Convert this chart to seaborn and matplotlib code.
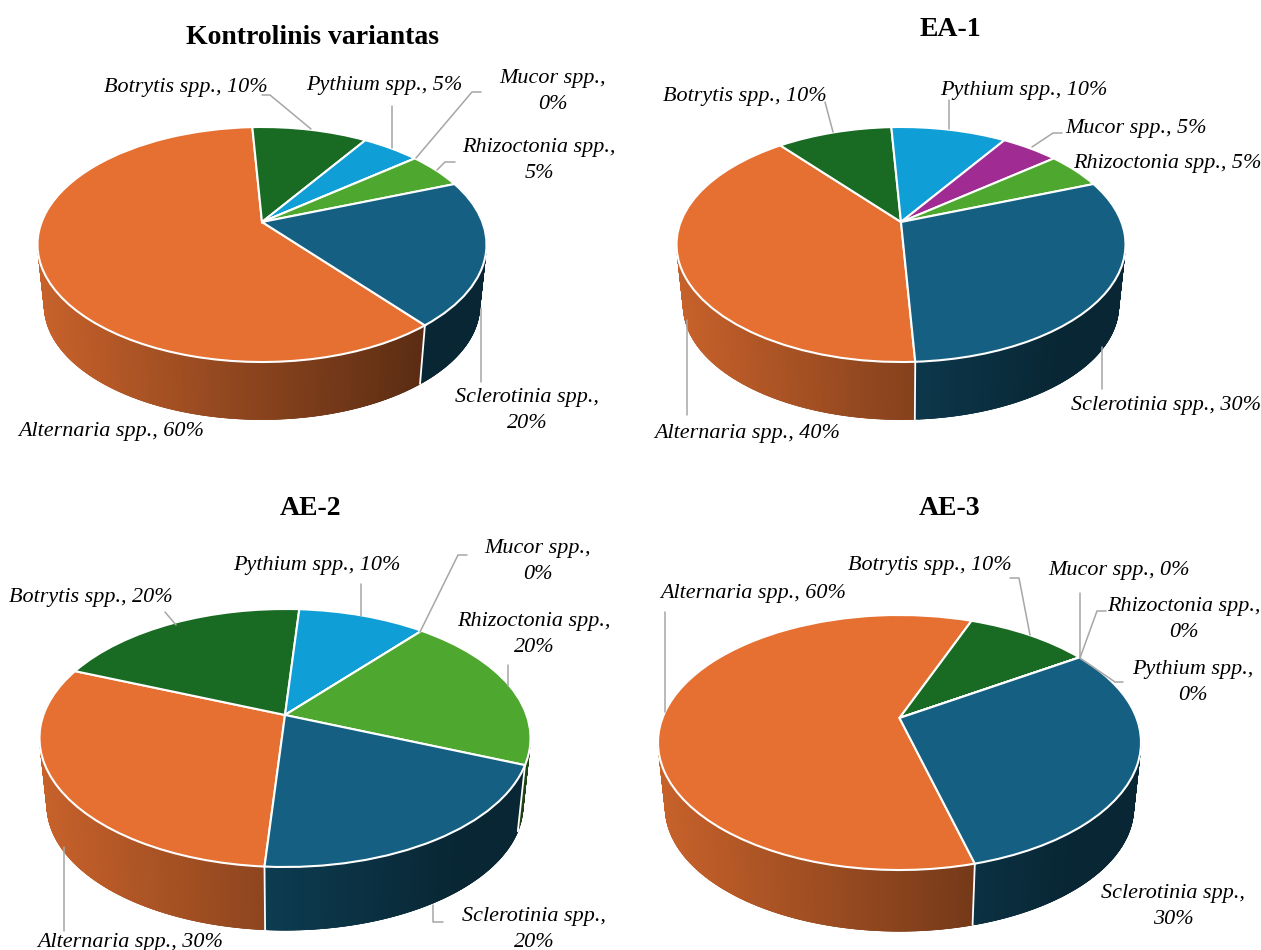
import numpy as np
import matplotlib
matplotlib.use("Agg")
import matplotlib.pyplot as plt
from matplotlib.collections import PolyCollection
from matplotlib.transforms import Transform
import seaborn as sns

# Share of each fungal genus (%) per treatment
genera = ["Alternaria", "Botrytis", "Pythium", "Mucor", "Rhizoctonia", "Sclerotinia"]
kontrolinis = [60, 10, 5, 0, 5, 20]
ea_1 = [40, 10, 10, 5, 5, 30]
ae_2 = [30, 20, 10, 0, 20, 20]
ae_3 = [60, 10, 0, 0, 0, 30]
titles = ["Kontrolinis variantas", "EA-1", "AE-2", "AE-3"]

sns.set_theme(style="white")
plt.rcParams["font.family"] = ["Liberation Serif", "DejaVu Sans"]
palette = sns.color_palette(["#E57031", "#196B24", "#0F9ED5", "#A02B93", "#4EA72E", "#156082"])

W, H = 1261, 950
fig = plt.figure(figsize=(W / 100, H / 100), dpi=100, facecolor="white")

LABEL_SIZE = 15.9
TITLE_SIZE = 20
LEADER = "#A6A6A6"


class Tilt(Transform):
    """Projects the unit circle of a pie onto a tilted disc in pixel space."""
    input_dims = output_dims = 2
    is_separable = False
    has_inverse = False

    def __init__(self, cx, apex_y, sx, sy, k):
        super().__init__()
        self.cx, self.apex_y, self.sx, self.sy, self.k = cx, apex_y, sx, sy, k

    def transform_non_affine(self, values):
        values = np.asarray(values, dtype=float)
        w = 1 + self.k * values[:, 1]
        return np.column_stack([self.cx + self.sx * values[:, 0] / w,
                                self.apex_y - self.sy * values[:, 1] / w])


def wall_shade(colour, frac):
    """Darkens a side-wall colour from the left to the right of the disc."""
    return tuple(np.array(colour) * max(0.40, 0.87 - 0.55 * frac))


def draw_panel(ax_box, values, title, title_xy, first_angle, geom, labels, leaders):
    x0, y0, x1, y1 = ax_box
    ax = fig.add_axes([x0 / W, 1 - y1 / H, (x1 - x0) / W, (y1 - y0) / H])
    cx, apex_y, rx, top, bottom, depth = geom
    ry = (bottom - top) / 2
    yc = (top + bottom) / 2
    k = (yc - apex_y) / ry
    sy = ry * (1 - k ** 2)
    sx = rx * np.sqrt(1 - k ** 2)
    tilt = Tilt(cx, apex_y, sx, sy, k)

    wedges, _ = ax.pie(values, colors=palette, startangle=90 - first_angle,
                       counterclock=False, frame=False,
                       wedgeprops=dict(edgecolor="white", linewidth=1.5, zorder=3))
    ax.set_aspect("auto")
    ax.set_xlim(x0, x1)
    ax.set_ylim(y1, y0)
    ax.set_axis_off()
    for wedge in wedges:
        wedge.set_transform(tilt + ax.transData)

    def rim(angles):
        rad = np.deg2rad(angles)
        return tilt.transform_non_affine(np.column_stack([np.sin(rad), np.cos(rad)]))

    def floor(points):
        return np.column_stack([cx + 0.97 * (points[:, 0] - cx),
                                yc + depth + 3 + 0.97 * (points[:, 1] - yc)])

    # Side wall: overlapping shaded strips along the front of each slice
    edges = first_angle + np.concatenate([[0], np.cumsum(values)]) * 3.6
    for v, a0, a1, colour in zip(values, edges[:-1], edges[1:], palette):
        if v == 0:
            continue
        angles = np.linspace(a0, a1, max(2, int((a1 - a0) * 2) + 1))
        upper = rim(angles)
        lower = floor(upper)
        keep = np.where(upper[:, 1] >= yc + 2)[0]
        if len(keep) < 2:
            continue
        # Runs left to right across the disc, so each strip covers the previous seam
        order = keep[np.argsort(upper[keep, 0])]
        polys, colours = [], []
        for a, b in zip(order[:-1], order[1:]):
            c = order[min(len(order) - 1, np.searchsorted(upper[order, 0], upper[b, 0]) + 1)]
            polys.append([upper[a], upper[b], upper[c], lower[c], lower[b], lower[a]])
            frac = (upper[a, 0] - (cx - rx)) / (2 * rx)
            colours.append(wall_shade(colour, frac))
        strips = PolyCollection(polys, facecolors=colours, edgecolors=colours,
                                linewidths=0.5, zorder=1)
        strips.set_snap(False)
        ax.add_collection(strips)

    # White seams where two slices meet on the wall
    for v, a in zip(values, edges[1:]):
        if v == 0:
            continue
        p = rim(np.array([a]))
        if p[0, 1] > yc + 2:
            q = floor(p)
            ax.plot([p[0, 0], q[0, 0]], [p[0, 1], q[0, 1]], color="white", lw=1.3, zorder=2)

    for path in leaders:
        xs, ys = zip(*path)
        ax.plot(xs, ys, color=LEADER, lw=1.1, zorder=4, clip_on=False)

    for idx, (x, y, wrap) in labels.items():
        sep = ",\n" if wrap else ", "
        ax.text(x, y + 2.5, f"{genera[idx]} spp.{sep}{values[idx]}%", ha="center", va="center",
                fontsize=LABEL_SIZE, style="italic", color="black", linespacing=1.45,
                zorder=5, clip_on=False)
    ax.text(title_xy[0], title_xy[1] + 3, title, ha="center", va="center", fontsize=TITLE_SIZE,
            fontweight="bold", color="black", clip_on=False)


draw_panel((0, 0, 635, 470), kontrolinis, titles[0], (312, 34), 141,
           (262, 222, 224.5, 127, 362, 58),
           {0: (111, 429, False), 1: (186, 85, False), 2: (384, 83, False),
            3: (553, 89, True), 4: (539, 158, True), 5: (527, 408, True)},
           [[(262, 95), (270, 95), (311, 129)],
            [(392, 106), (392, 148)],
            [(481, 92), (472, 92), (416, 158)],
            [(455, 162), (445, 162), (437, 170)],
            [(481, 308), (481, 382)]])

draw_panel((635, 0, 1261, 470), ea_1, titles[1], (950, 26), 177,
           (901, 222, 224.5, 127, 362, 58),
           {0: (747, 431, False), 1: (745, 94, False), 2: (1024, 88, False),
            3: (1136, 126, False), 4: (1167, 161, False), 5: (1166, 403, False)},
           [[(825, 102), (833, 132)],
            [(949, 100), (949, 129)],
            [(1062, 133), (1053, 133), (1032, 147)],
            [(1102, 347), (1102, 389)],
            [(687, 320), (687, 415)]])

draw_panel((0, 480, 635, 950), ae_2, titles[2], (311, 506), 184,
           (285, 715, 245.5, 609, 867, 64),
           {0: (130, 940, False), 1: (91, 595, False), 2: (317, 563, False),
            3: (538, 559, True), 4: (534, 632, True), 5: (534, 927, True)},
           [[(165, 612), (176, 625)],
            [(361, 584), (361, 616)],
            [(467, 555), (458, 555), (420, 632)],
            [(508, 665), (508, 686)],
            [(433, 905), (433, 922), (443, 922)],
            [(64, 847), (64, 931)]])

draw_panel((635, 480, 1261, 950), ae_3, titles[3], (950, 506), 165,
           (899.5, 718, 241.5, 615, 870, 62),
           {0: (753, 591, False), 1: (930, 563, False), 2: (1193, 680, True),
            3: (1119, 568, False), 4: (1184, 617, True), 5: (1173, 904, True)},
           [[(1010, 578), (1019, 578), (1030, 635)],
            [(1080, 593), (1080, 658)],
            [(1106, 611), (1097, 611), (1080, 658)],
            [(1080, 658), (1115, 682), (1123, 682)],
            [(665, 612), (665, 712)]])

fig.savefig("out.png", dpi=100, facecolor="white")
